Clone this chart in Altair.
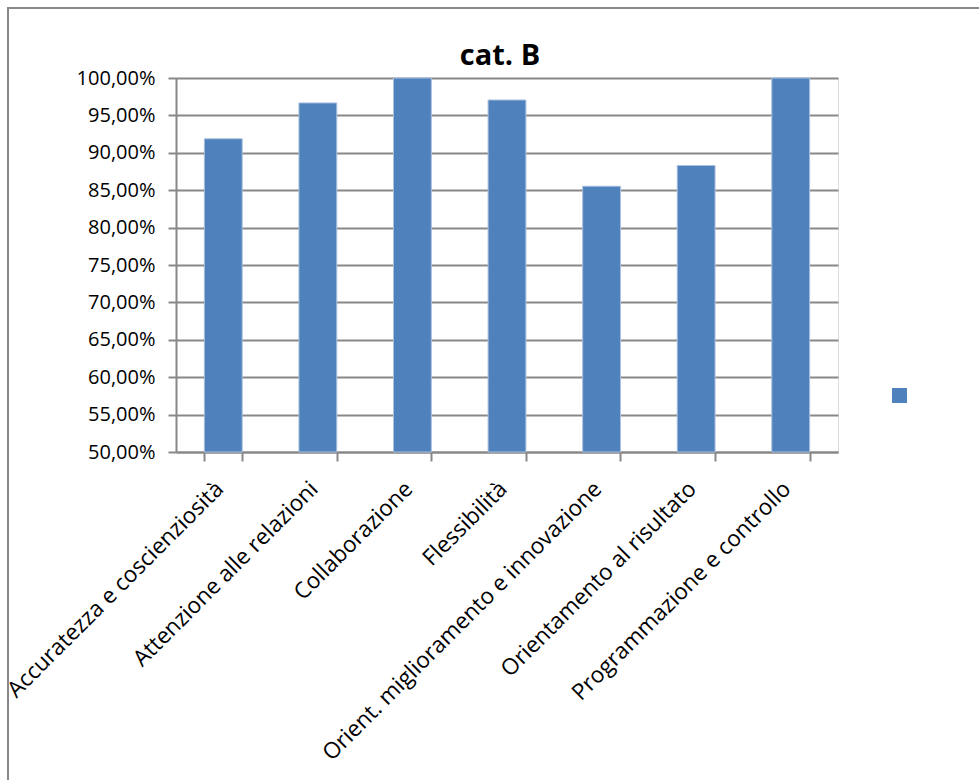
import altair as alt
import pandas as pd

categories = [
    "Accuratezza e coscienziosità",
    "Attenzione alle relazioni",
    "Collaborazione",
    "Flessibilità",
    "Orient. miglioramento e innovazione",
    "Orientamento al risultato",
    "Programmazione e controllo",
]
values = [0.9187, 0.9667, 1.0, 0.9706, 0.8553, 0.8830, 1.0]
series = [" "] * len(categories)
y_ticks = [0.5, 0.55, 0.6, 0.65, 0.7, 0.75, 0.8, 0.85, 0.9, 0.95, 1.0]
title_text = "cat. B"

df = pd.DataFrame({"categoria": categories, "valore": values, "serie": series})

FONT = "Open Sans"
GRAY = "#888888"

bars = alt.Chart(df).mark_bar(
    color="#4F81BD", stroke="#A9C0DE", strokeWidth=1
).encode(
    x=alt.X(
        "categoria:N",
        sort=categories,
        title=None,
        scale=alt.Scale(paddingInner=0.6, paddingOuter=0.3),
        axis=alt.Axis(
            labelAngle=-45,
            labelAlign="right",
            labelBaseline="middle",
            labelFont=FONT,
            labelFontSize=22.5,
            labelColor="#000000",
            labelPadding=24,
            labelOffset=-4,
            labelLimit=0,
            labelOverlap=False,
            tickBand="extent",
            tickSize=9,
            tickColor=GRAY,
            tickWidth=2,
            domainColor=GRAY,
            domainWidth=2,
            grid=False,
        ),
    ),
    y=alt.Y(
        "valore:Q",
        title=None,
        scale=alt.Scale(domain=[0.5, 1.0], zero=False, nice=False),
        axis=alt.Axis(
            values=y_ticks,
            labelExpr="replace(format(datum.value, '.2%'), '.', ',')",
            labelFont=FONT,
            labelFontSize=20,
            labelColor="#000000",
            labelPadding=13,
            tickSize=8,
            tickColor=GRAY,
            tickWidth=2,
            domainColor=GRAY,
            domainWidth=2,
            grid=True,
            gridColor=GRAY,
            gridWidth=2,
        ),
    ),
    y2=alt.datum(0.5),
    color=alt.Color(
        "serie:N",
        scale=alt.Scale(range=["#4F81BD"]),
        legend=alt.Legend(
            title=None,
            labelExpr="''",
            symbolType="square",
            symbolSize=225,
            symbolStrokeWidth=0,
            orient="none",
            legendX=716,
            legendY=310,
            padding=0,
        ),
    ),
)

frame = alt.Chart(alt.Data(values=[{"f": 1}])).mark_rect(
    fill=None, stroke="#888888", strokeWidth=2
).encode(
    x=alt.value(-168),
    x2=alt.value(1000),
    y=alt.value(-70),
    y2=alt.value(900),
)

title = alt.Chart(alt.Data(values=[{"t": title_text}])).mark_text(
    font=FONT, fontSize=29, fontWeight="bold", color="#000000",
    align="center", baseline="alphabetic",
).encode(
    text="t:N",
    x=alt.value(324),
    y=alt.value(-13),
)

chart = alt.layer(frame, bars, title).properties(
    width=662,
    height=374,
    autosize=alt.AutoSizeParams(type="none"),
    padding={"left": 176, "top": 78, "right": 141, "bottom": 328},
).configure_view(stroke=None).configure(background="white")

chart.save("out.html", embed_options={"renderer": "svg", "actions": False})
